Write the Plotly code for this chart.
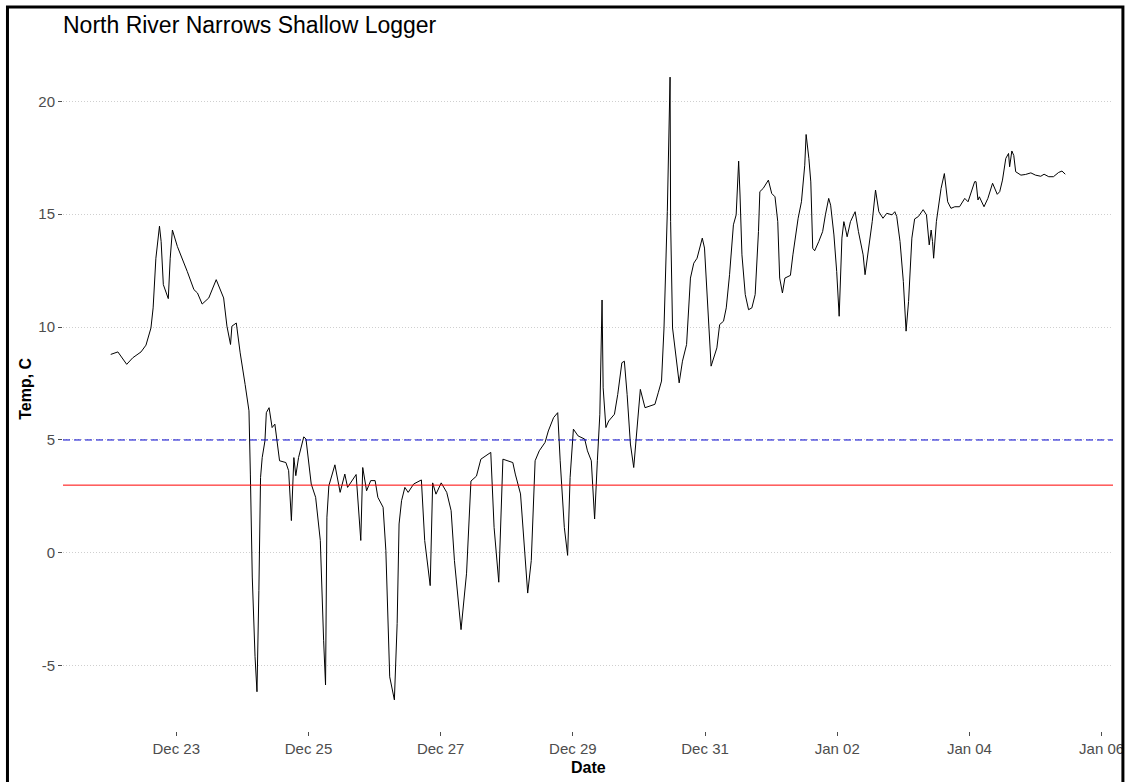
import pandas as pd
import plotly.graph_objects as go

# Logger readings: hours since the logger started, and water temperature (deg C)
logger_start = "2019-12-22 00:00"
hours_elapsed = [
    0.2, 2.8, 6.0, 8.2, 11.2, 13.0, 14.8, 15.6, 16.6, 17.9, 18.5, 19.3, 21.1, 21.8, 22.6,
    24.4, 28.0, 30.4, 31.7, 33.4, 35.8, 38.5, 41.2, 42.4, 43.7, 44.2, 45.8, 47.2, 49.0,
    50.4, 50.9, 51.6, 52.6, 53.3, 54.0, 54.6, 55.2, 56.2, 56.7, 57.7, 58.8, 59.8, 61.5,
    63.8, 64.8, 65.8, 66.7, 67.4, 68.4, 70.3, 71.1, 73.0, 74.6, 76.3, 77.5, 78.2, 78.7,
    79.4, 81.6, 83.5, 85.2, 86.2, 89.3, 91.0, 91.7, 93.1, 94.6, 96.2, 97.2, 99.1, 100.1,
    101.5, 103.2, 104.2, 104.9, 105.8, 107.0, 108.2, 110.2, 113.0, 114.2, 116.2, 117.1,
    118.3, 120.2, 122.2, 123.8, 125.0, 127.4, 129.4, 131.0, 133.0, 134.6, 138.2, 139.4,
    141.1, 142.6, 146.2, 147.1, 149.0, 151.6, 152.9, 154.3, 155.8, 157.9, 159.1, 161.0,
    162.5, 163.4, 164.9, 166.1, 167.0, 168.2, 169.9, 172.3, 173.3, 174.7, 175.4, 175.9,
    176.9, 177.8, 178.6, 179.0, 180.0, 181.0, 183.1, 184.3, 185.8, 186.7, 187.7, 188.9,
    190.1, 191.3, 192.5, 194.2, 196.3, 197.8, 199.0, 200.2, 201.1, 202.3, 203.3, 203.5,
    204.2, 205.4, 206.6, 207.8, 209.3, 210.7, 211.9, 213.1, 215.0, 215.8, 216.7, 218.2,
    220.3, 221.3, 222.7, 223.7, 224.9, 226.3, 227.3, 228.2, 228.7, 229.4, 230.6, 231.8,
    233.0, 234.2, 235.4, 235.9, 237.1, 239.0, 240.2, 241.4, 242.4, 243.1, 244.1, 245.0,
    247.0, 247.9, 249.8, 251.0, 252.2, 252.7, 253.7, 254.4, 255.1, 255.8, 257.3, 258.7,
    259.7, 260.9, 261.6, 262.8, 263.8, 264.7, 265.7, 266.4, 267.1, 267.6, 268.8, 270.5,
    271.7, 272.4, 273.4, 274.1, 275.3, 276.7, 277.9, 279.1, 280.6, 282.0, 283.9, 284.9,
    285.6, 286.8, 288.0, 289.0, 289.9, 291.1, 292.1, 293.5, 295.2, 296.4, 297.4, 298.1,
    298.6, 299.0, 300.0, 301.7, 302.9, 304.1, 305.3, 306.7, 308.4, 310.3, 311.5, 312.7,
    313.9, 314.4, 315.1, 315.6, 317.3, 318.7, 320.4, 322.1, 323.0, 324.0, 325.2, 326.2,
    326.6, 327.4, 328.1, 328.8, 330.7, 332.4, 334.3, 336.0, 337.9, 339.1, 340.8, 342.5,
    344.4, 345.6, 346.8,
]
temp_c = [
    8.79, 8.90, 8.35, 8.64, 8.90, 9.20, 9.96, 10.85, 13.05, 14.47, 13.79, 11.88, 11.26, 13.05, 14.30,
    13.57, 12.46, 11.66, 11.51, 11.02, 11.29, 12.10, 11.29, 10.04, 9.23, 10.04, 10.18, 8.86, 7.46,
    6.29, 3.49, -1.07, -4.60, -6.15, -1.66, 3.34, 4.22, 4.96, 6.21, 6.43, 5.55, 5.70, 4.08,
    4.00, 3.64, 1.43, 4.22, 3.42, 4.22, 5.14, 5.04, 3.05, 2.46, 0.55, -3.87, -5.85, 1.58,
    2.97, 3.90, 2.68, 3.49, 2.90, 3.47, 0.55, 3.78, 2.75, 3.20, 3.20, 2.46, 2.02, 0.11,
    -5.49, -6.51, -3.13, 1.28, 2.31, 2.90, 2.68, 3.05, 3.23, 0.55, -1.45, 3.10,
    2.60, 3.10, 2.68, 1.87, -0.34, -3.40, -0.90, 3.18, 3.40, 4.15, 4.45, 1.13,
    -1.30, 4.15, 4.00, 3.49, 2.61, -1.78, -0.34, 4.08, 4.52, 4.89, 5.40, 5.99,
    6.21, 4.08, 1.13, -0.11, 3.34, 5.48, 5.18, 5.04, 4.52, 4.08, 2.46, 1.50,
    4.08, 6.14, 11.20, 7.31, 5.55, 5.84, 6.14, 7.02, 8.42, 8.49, 7.02, 4.82,
    3.78, 5.55, 7.24, 6.43, 6.51, 6.58, 7.09, 7.61, 9.96, 15.11, 21.07, 14.67,
    9.96, 8.79, 7.53, 8.49, 9.23, 12.17, 12.83, 13.05, 13.94, 13.50, 11.73, 8.27,
    9.08, 10.11, 10.26, 10.85, 12.32, 14.53, 14.97, 17.35, 15.85, 13.20, 11.44, 10.77,
    10.85, 11.44, 14.23, 16.00, 16.14, 16.51, 15.92, 15.77, 14.67, 12.17, 11.51, 12.17,
    12.29, 13.20, 14.82, 15.55, 17.17, 18.53, 17.47, 16.43, 13.49, 13.38, 13.79, 14.23,
    14.97, 15.70, 15.40, 14.08, 12.46, 10.48, 13.94, 14.67, 14.30, 14.00, 14.67, 15.11,
    14.23, 13.86, 13.20, 12.32, 13.35, 14.67, 16.07, 15.11, 14.82, 15.04, 14.97, 15.11,
    14.90, 13.79, 12.02, 9.82, 11.14, 13.94, 14.79, 14.90, 15.20, 14.97, 13.64, 14.30,
    13.79, 13.05, 14.67, 16.14, 16.80, 15.55, 15.26, 15.33, 15.33, 15.70, 15.55, 16.00,
    16.44, 16.44, 15.63, 15.77, 15.33, 15.70, 16.37, 15.88, 16.00, 16.51, 17.47, 17.69,
    17.10, 17.80, 17.60, 16.88, 16.73, 16.76, 16.83, 16.73, 16.68, 16.77, 16.66, 16.66,
    16.85, 16.91, 16.77,
]

# Reference temperatures drawn as horizontal lines
dashed_threshold = 5
solid_threshold = 3

y_tick_values = [-5, 0, 5, 10, 15, 20]
y_tick_labels = ["-5", "0", "5", "10", "15", "20"]

timestamps = pd.Timestamp(logger_start) + pd.to_timedelta(hours_elapsed, unit="h")

# 5% padding on each side of the data range
t_min, t_max = timestamps.min(), timestamps.max()
t_pad = (t_max - t_min) * 0.05
v_min, v_max = min(temp_c), max(temp_c)
v_pad = (v_max - v_min) * 0.05

FONT = "Liberation Sans, Arial, Helvetica, sans-serif"
W, H = 1136, 782
ML, MR, MT, MB = 63, 14, 46, 51
PW, PH = W - ML - MR, H - MT - MB


def px_x(px):
    return (px - ML) / PW


def px_y(py):
    return (H - MB - py) / PH


fig = go.Figure()
fig.add_trace(go.Scatter(
    x=timestamps, y=temp_c, mode="lines",
    line=dict(color="black", width=1),
    showlegend=False, hoverinfo="x+y",
))

fig.add_shape(type="line", xref="paper", yref="y", x0=0, x1=1,
              y0=dashed_threshold, y1=dashed_threshold,
              line=dict(color="#0000cc", width=1, dash="7px,4px"))
fig.add_shape(type="line", xref="paper", yref="y", x0=0, x1=1,
              y0=solid_threshold, y1=solid_threshold,
              line=dict(color="#ff0000", width=1))

# Outer frame around the whole figure
fig.add_shape(type="rect", xref="paper", yref="paper",
              x0=px_x(7), x1=px_x(1132), y0=px_y(810), y1=px_y(7),
              line=dict(color="black", width=3), fillcolor="rgba(0,0,0,0)",
              layer="above")

fig.add_annotation(text="<b>Temp, C</b>", xref="paper", yref="paper",
                   x=px_x(25), y=0.5, xanchor="center", yanchor="middle",
                   textangle=-90, showarrow=False,
                   font=dict(family=FONT, size=16, color="black"))
fig.add_annotation(text="<b>Date</b>", xref="paper", yref="paper",
                   x=0.5, y=px_y(768), xanchor="center", yanchor="middle",
                   showarrow=False,
                   font=dict(family=FONT, size=16, color="black"))

fig.update_layout(
    width=W, height=H,
    margin=dict(l=ML, r=MR, t=MT, b=MB),
    paper_bgcolor="white", plot_bgcolor="white",
    font=dict(family=FONT, color="#4d4d4d", size=15),
    title=dict(text="North River Narrows Shallow Logger",
               xref="paper", x=0, xanchor="left",
               yref="container", y=1 - 25 / H, yanchor="middle",
               font=dict(family=FONT, size=23, color="black")),
    xaxis=dict(
        type="date", range=[t_min - t_pad, t_max + t_pad],
        tick0="2019-12-23", dtick=2 * 86400000, tickformat="%b %d",
        ticks="outside", ticklen=4, tickcolor="#4d4d4d", tickwidth=1,
        showgrid=False, zeroline=False, showline=False,
        tickfont=dict(family=FONT, size=15, color="#4d4d4d"),
    ),
    yaxis=dict(
        range=[v_min - v_pad, v_max + v_pad],
        tickvals=y_tick_values, ticktext=y_tick_labels,
        ticks="outside", ticklen=4, tickcolor="#4d4d4d", tickwidth=1,
        showgrid=True, gridcolor="#cfcfcf", griddash="1px,2px", gridwidth=1,
        zeroline=False, showline=False,
        tickfont=dict(family=FONT, size=15, color="#4d4d4d"),
    ),
)

fig.write_html("out.html")
